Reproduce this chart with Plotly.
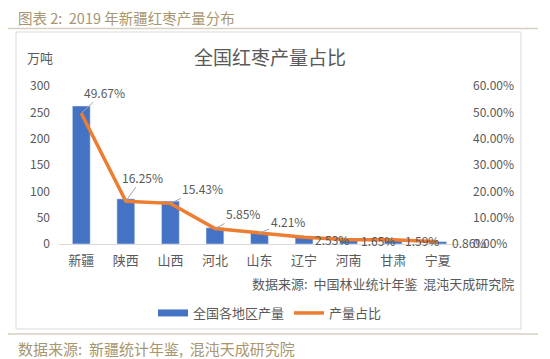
import plotly.graph_objects as go

regions = ["新疆", "陕西", "山西", "河北", "山东", "辽宁", "河南", "甘肃", "宁夏"]
output_wt = [262, 85.7, 81.4, 30.9, 22.2, 13.3, 8.7, 8.4, 4.5]
share_pct = [49.67, 16.25, 15.43, 5.85, 4.21, 2.53, 1.65, 1.59, 0.86]
y1_ticks = [0, 50, 100, 150, 200, 250, 300]
y2_ticks = [0, 0.1, 0.2, 0.3, 0.4, 0.5, 0.6]

# the page body has an 8px margin, so the figure is drawn 8px smaller and
# every screen position below is shifted by that offset
OFF = 8
W, H = 550 - OFF, 359 - OFF
SL, SR, ST, SB = 59, 460, 86, 244   # plot area in screen pixels

def px(x):
    return (x - SL) / (SR - SL)

def py(y):
    return (SB - y) / (SB - ST)

FONT = "Noto Sans CJK SC, Noto Sans, sans-serif"
GRAY = "#595959"
TAN = "#A8966F"
BLUE = "#4472C4"
ORANGE = "#ED7D31"

fig = go.Figure()
fig.add_trace(go.Bar(x=regions, y=output_wt, marker_color=BLUE, name="全国各地区产量",
                     showlegend=False, yaxis="y"))
# legend entry drawn as a thick blue stroke, like the reference legend
fig.add_trace(go.Scatter(x=[regions[0]], y=[None], mode="lines", name="全国各地区产量",
                         line=dict(color=BLUE, width=7), yaxis="y", hoverinfo="skip"))
fig.add_trace(go.Scatter(x=regions, y=[p / 100 for p in share_pct], mode="lines",
                         name="产量占比", line=dict(color=ORANGE, width=3.5), yaxis="y2"))

offs = [(23, -21), (17, -24), (32, -15), (28, -15), (28, -11), (28, 2), (29, 1), (29, 1), (31, 1)]
annos = []
for i, (r, p) in enumerate(zip(regions, share_pct)):
    ax, ay = offs[i]
    annos.append(dict(x=r, y=p / 100, xref="x", yref="y2", text=f"{p:.2f}%",
                      showarrow=True, ax=ax, ay=ay, axref="pixel", ayref="pixel",
                      arrowhead=0, arrowwidth=1, standoff=0,
                      arrowcolor="#A6A6A6" if i < 5 else "rgba(0,0,0,0)",
                      font=dict(size=12, color=GRAY, family=FONT)))

def txt(x, y, text, size, color, xanchor="center"):
    return dict(x=px(x), y=py(y), xref="paper", yref="paper", text=text, showarrow=False,
                xanchor=xanchor, yanchor="middle", font=dict(size=size, color=color, family=FONT))

annos += [
    txt(270, 56, "全国红枣产量占比", 19, GRAY),
    txt(40, 58, "万吨", 13, GRAY),
    txt(516, 283, "数据来源:  中国林业统计年鉴  混沌天成研究院", 13, GRAY, "right"),
    txt(16, 18, "图表 2:  2019 年新疆红枣产量分布", 14.5, TAN, "left"),
    txt(16, 348, "数据来源:  新疆统计年鉴,  混沌天成研究院", 15, TAN, "left"),
]

shapes = [
    dict(type="rect", xref="paper", yref="paper", x0=px(16), x1=px(521), y0=py(32), y1=py(329),
         line=dict(color="#D9D9D9", width=1), fillcolor="rgba(0,0,0,0)", layer="below"),
    dict(type="line", xref="paper", yref="paper", x0=px(8), x1=px(538), y0=py(28.5), y1=py(28.5),
         line=dict(color="#D8CFC0", width=1.5)),
    dict(type="line", xref="paper", yref="paper", x0=px(8), x1=px(538), y0=py(334), y1=py(334),
         line=dict(color="#D8CFC0", width=1.5)),
]

fig.update_layout(
    width=W, height=H,
    margin=dict(l=SL - OFF, r=550 - SR, t=ST - OFF, b=359 - SB, pad=0, autoexpand=False),
    paper_bgcolor="white", plot_bgcolor="white",
    bargap=0.6,
    font=dict(family=FONT, color=GRAY),
    xaxis=dict(type="category", categoryorder="array", categoryarray=regions,
               range=[-0.5, len(regions) - 0.5],
               showgrid=False, showline=True, linecolor="#D9D9D9", linewidth=1, automargin=False,
               ticks="", tickfont=dict(size=13, color=GRAY), ticklabelstandoff=4),
    yaxis=dict(range=[0, 300], tickvals=y1_ticks, showgrid=False, zeroline=False, automargin=False,
               showline=False, ticks="", tickfont=dict(size=12, color=GRAY),
               ticklabelstandoff=8),
    yaxis2=dict(range=[0, 0.6], tickvals=y2_ticks, tickformat=".2%", overlaying="y",
                side="right", showgrid=False, zeroline=False, showline=False, ticks="",
                automargin=False, tickfont=dict(size=12, color=GRAY), ticklabelstandoff=12),
    legend=dict(orientation="h", x=px(270), xanchor="center", y=py(313), yanchor="middle",
                font=dict(size=13, color=GRAY, family=FONT), bgcolor="rgba(0,0,0,0)",
                itemwidth=30, traceorder="normal"),
    annotations=annos,
    shapes=shapes,
    showlegend=True,
)

fig.write_html("out.html")
